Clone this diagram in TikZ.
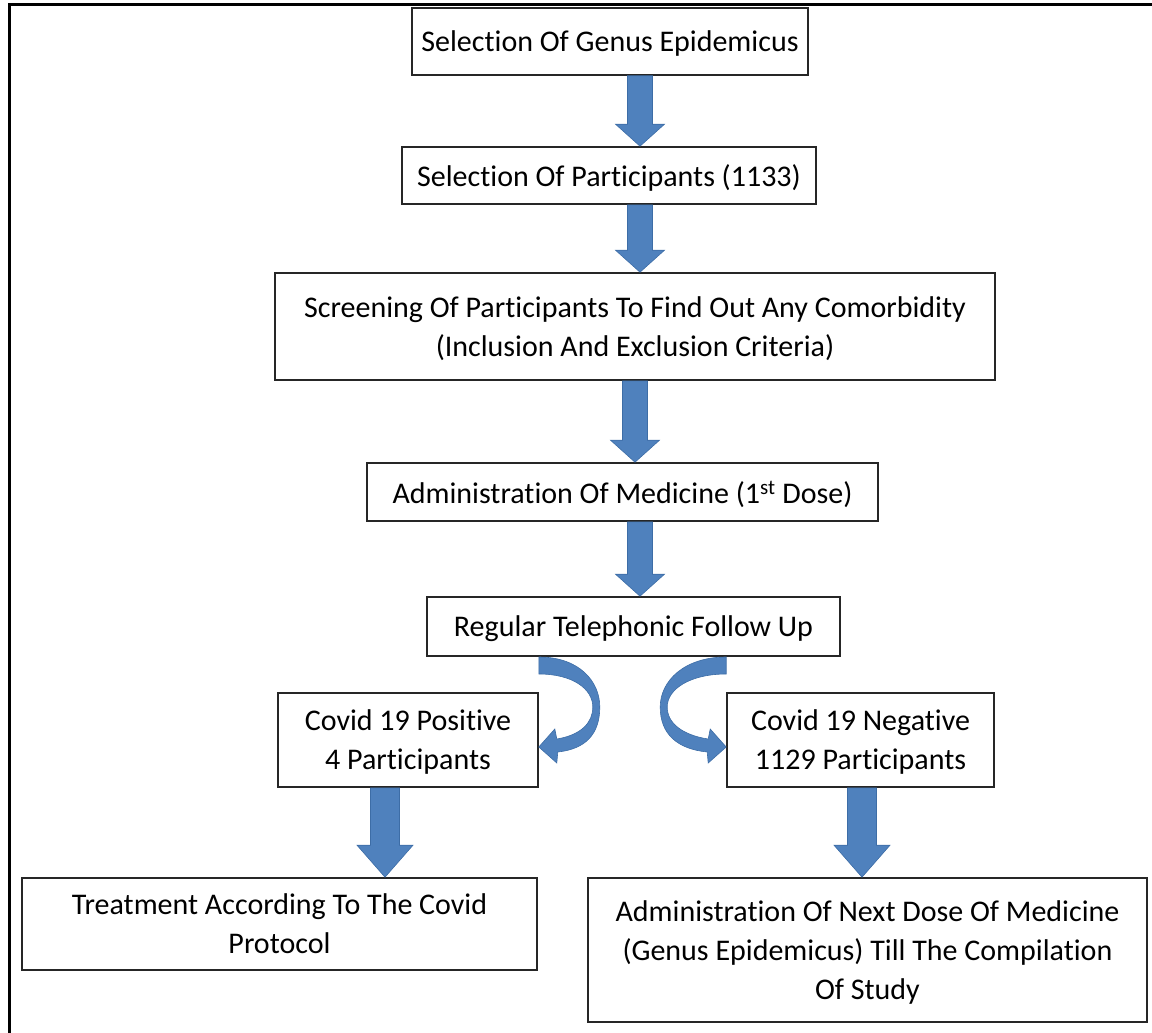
\documentclass[tikz,border=0pt]{standalone}
\usepackage{fontspec}
\setmainfont{Carlito}[Ligatures=NoCommon]
\usetikzlibrary{calc}
\definecolor{arrowblue}{HTML}{4F81BD}
\definecolor{arrowedge}{HTML}{3D6DA6}
\tikzset{
  box/.style={draw=black!85, line width=1.6pt, inner sep=0pt, align=center,
    font=\fontsize{30}{39}\selectfont, text depth=0pt},
  blockarrow/.style={fill=arrowblue, draw=arrowedge, line width=0.6pt},
}
\newcommand\blkarrow[6]{%
  \path[blockarrow] let \p1=(#2.south), \p2=(#3.north) in
   (#1pt-#4pt,\y1) -- (#1pt+#4pt,\y1) -- (#1pt+#4pt,\y2+#6pt) -- (#1pt+#5pt,\y2+#6pt)
   -- (#1pt,\y2) -- (#1pt-#5pt,\y2+#6pt) -- (#1pt-#4pt,\y2+#6pt) -- cycle;}
\begin{document}
\begin{tikzpicture}[x=1pt,y=-1pt]
\useasboundingbox (0,0) rectangle (1152,1033);
% outer frame
\draw[line width=3pt] (9,1035) -- (9,5) -- (1154,5);
% boxes
\node[box, minimum width=396, minimum height=67] (b1) at (610,41.5) {Selection Of Genus Epidemicus};
\node[box, minimum width=414, minimum height=57] (b2) at (609,175.5) {Selection Of Participants (1133)};
\node[box, minimum width=720, minimum height=107] (b3) at (635,326.5) {Screening Of Participants To Find Out Any Comorbidity\\(Inclusion And Exclusion Criteria)};
\node[box, minimum width=511, minimum height=58] (b4) at (622.5,492) {Administration Of Medicine (1\textsuperscript{st} Dose)};
\node[box, minimum width=413, minimum height=59] (b5) at (633.5,626.5) {Regular Telephonic Follow Up};
\node[box, minimum width=260, minimum height=94] (b6) at (408,740) {Covid 19 Positive\\4 Participants};
\node[box, minimum width=267, minimum height=94] (b7) at (860.5,740) {Covid 19 Negative\\1129 Participants};
\node[box, minimum width=515, minimum height=92] (b8) at (279.5,924) {Treatment According To The Covid\\Protocol};
\node[box, minimum width=559, minimum height=144] (b9) at (867.5,950) {Administration Of Next Dose Of Medicine\\(Genus Epidemicus) Till The Compilation\\Of Study};
% straight block arrows
\blkarrow{640}{b1}{b2}{12.5}{24.5}{22}
\blkarrow{640}{b2}{b3}{12.5}{24.5}{22}
\blkarrow{635}{b3}{b4}{12.5}{24.5}{22}
\blkarrow{640}{b4}{b5}{12.5}{24.5}{22}
\blkarrow{385}{b6}{b8}{14.5}{28}{32}
\blkarrow{862}{b7}{b9}{14.5}{28}{32}
% curved arrows
\begin{scope}[shift={($(b6.east)+(0,6)$)}]
\path[blockarrow] (0,-89) .. controls (40,-89) and (61,-65) .. (61,-39)
  .. controls (61,-12) and (47,3) .. (19,6)
  -- (18,17) -- (0,1) -- (16,-17) -- (18,-7)
  .. controls (42,-11) and (54,-23) .. (54,-39)
  .. controls (54,-57) and (34,-72) .. (0,-72) -- cycle;
\end{scope}
\begin{scope}[shift={($(b7.west)+(0,6)$)}, xscale=-1]
\path[blockarrow] (0,-89) .. controls (42,-89) and (66,-65) .. (66,-39)
  .. controls (66,-12) and (49,3) .. (19,6)
  -- (18,17) -- (0,1) -- (16,-17) -- (18,-7)
  .. controls (44,-11) and (59,-23) .. (59,-39)
  .. controls (59,-57) and (36,-72) .. (0,-72) -- cycle;
\end{scope}
\end{tikzpicture}
\end{document}
